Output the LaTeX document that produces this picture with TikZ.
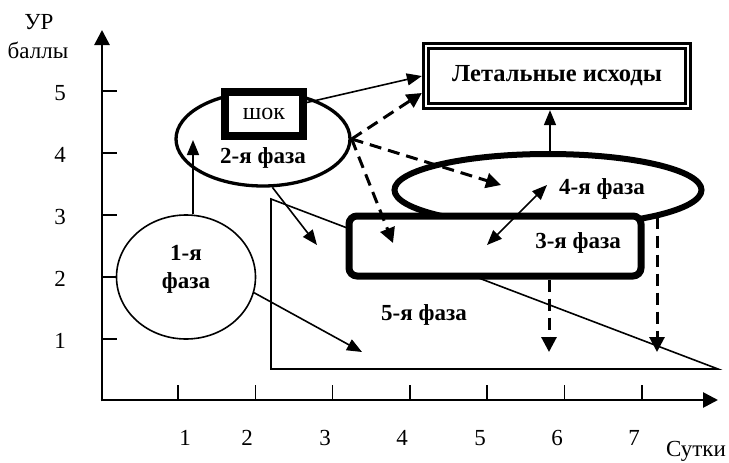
\documentclass[tikz,border=0pt]{standalone}
\usepackage{fontspec}
\setmainfont{Liberation Serif}
\usetikzlibrary{arrows.meta, positioning, shapes.geometric}
\definecolor{ink}{HTML}{000000}
\definecolor{paper}{HTML}{FFFFFF}
\tikzset{
  axis-line/.style={draw=ink, line width=2.7pt, -{Triangle[length=15pt,width=15pt]}},
  tick-mark/.style={draw=ink, line width=1.5pt},
  tick-label/.style={font=\fontsize{23}{27}\selectfont, inner sep=0pt},
  phase-label/.style={
    font=\fontsize{23}{28}\selectfont\bfseries, inner sep=0pt, align=center
  },
  phase-oval-thin/.style={
    ellipse, draw=ink, line width=1.6pt, inner sep=0pt,
    minimum width=139pt, minimum height=124pt
  },
  phase-oval/.style={
    ellipse, draw=ink, line width=3.3pt, inner sep=0pt,
    minimum width=174pt, minimum height=94pt
  },
  phase-oval-bold/.style={
    ellipse, draw=ink, line width=6pt, inner sep=0pt,
    minimum width=307pt, minimum height=72pt
  },
  phase-box/.style={
    rectangle, rounded corners=8pt, draw=ink, fill=paper, line width=7pt,
    minimum width=292pt, minimum height=60pt, inner sep=0pt
  },
  shock-box/.style={
    rectangle, draw=ink, fill=paper, line width=8pt,
    minimum width=78pt, minimum height=44pt, inner sep=0pt,
    font=\fontsize{24}{28}\selectfont
  },
  outcome-box/.style={
    rectangle, draw=ink, fill=paper, line width=3pt, double=paper,
    double distance=2.3pt, outer sep=4.15pt,
    minimum width=262pt, minimum height=60pt, inner sep=0pt,
    font=\fontsize{24.5}{28}\selectfont\bfseries
  },
  tri-line/.style={draw=ink, line width=1.6pt},
  thin-arrow/.style={draw=ink, line width=1.6pt, -{Triangle[length=15pt,width=12pt]}},
  both-arrow/.style={
    draw=ink, line width=1.6pt,
    {Triangle[length=15pt,width=12pt]}-{Triangle[length=15pt,width=12pt]}
  },
  dash-arrow/.style={
    draw=ink, line width=3pt, dash pattern=on 12pt off 7pt,
    -{Triangle[length=15pt,width=15pt]}
  }
}

\begin{document}
\begin{tikzpicture}[x=1pt, y=-1pt]
  \useasboundingbox (0,0) rectangle (729,463);

  % ---- Axes ----------------------------------------------------------------
  \coordinate (origin) at (102,400);
  \coordinate (y-top)  at (102,30);
  \coordinate (x-end)  at (718,400);
  \draw[axis-line] ([yshift=-1.35pt]origin) -- (y-top);
  \draw[axis-line] ([xshift=-1.35pt]origin) -- (x-end);

  \foreach \i in {0,...,6}
    \draw[tick-mark] (178+77.3*\i,400) -- (178+77.3*\i,385);
  \foreach \j in {0,...,4}
    \draw[tick-mark] (102,91+62*\j) -- (117,91+62*\j);

  \foreach \px/\val in {185/1, 247/2, 325/3, 402/4, 480/5, 557/6, 634/7}
    \node[tick-label] (xl\val) at (\px,438) {\val};
  \foreach \py/\val in {93/5, 155/4, 217/3, 279/2, 341/1}
    \node[tick-label] (yl\val) at (60,\py) {\val};

  \node[tick-label] (y-name)  at (39,22) {УР};
  \node[tick-label] (y-unit)  at (38,50) {баллы};
  \node[tick-label] (x-name)  at (696,451) {Сутки};

  % ---- 5th phase: triangle -------------------------------------------------
  \coordinate (t-top)    at (271,199);
  \coordinate (t-corner) at (271,369);
  \coordinate (t-end)    at (718,369);
  \draw[tri-line] (t-top) -- (t-corner) -- (t-end) -- cycle;
  \node[phase-label] (lbl5) at (424,315) {5-я фаза};

  % ---- Phases --------------------------------------------------------------
  \node[phase-oval-thin] (ph1) at (186,277) {};
  \node[phase-label] (lbl1) at (186,269) {1-я\\фаза};

  \node[phase-oval] (ph2) at (263,139) {};
  \node[shock-box]  (shock) at (264,114) {шок};
  \node[phase-label] (lbl2) at (263,158) {2-я фаза};

  \node[outcome-box] (letal) at (557,76) {Летальные исходы};

  \node[phase-oval-bold] (ph4) at (548,190) {};
  \node[phase-label] (lbl4) at (602,189) {4-я фаза};

  \node[phase-box] (ph3) at (495,246) {};
  \node[phase-label] (lbl3) at (578,243) {3-я фаза};

  % ---- Transitions ---------------------------------------------------------
  \coordinate (a1) at (193,140);
  \coordinate (a2) at (362,352);
  \coordinate (a3) at (317,245);
  \coordinate (a6) at (501,185);
  \coordinate (a7) at (393,243);
  \coordinate (b3) at (487,245);
  \coordinate (b4) at (547,185);
  \coordinate (d6) at (549,352);
  \coordinate (d7) at (657,352);

  \draw[thin-arrow] ([xshift=7pt]ph1.north) -- (a1);
  \draw[thin-arrow] (ph1.-13) -- (a2);
  \draw[thin-arrow] (ph2.-79) -- (a3);
  \draw[thin-arrow] (shock.15) -- (letal.west);
  \draw[thin-arrow] ([xshift=2pt]ph4.north) -- ([xshift=2pt]ph4.north |- letal.south);
  \draw[both-arrow] (b3) -- (b4);

  \draw[dash-arrow] (ph2.east) -- ([yshift=-17pt]letal.west);
  \draw[dash-arrow] (ph2.east) -- (a6);
  \draw[dash-arrow] (ph2.east) -- (a7);
  \draw[dash-arrow] (ph3.south -| d6) -- (d6);
  \draw[dash-arrow] (ph4.-13 -| d7) -- (d7);

\end{tikzpicture}
\end{document}
